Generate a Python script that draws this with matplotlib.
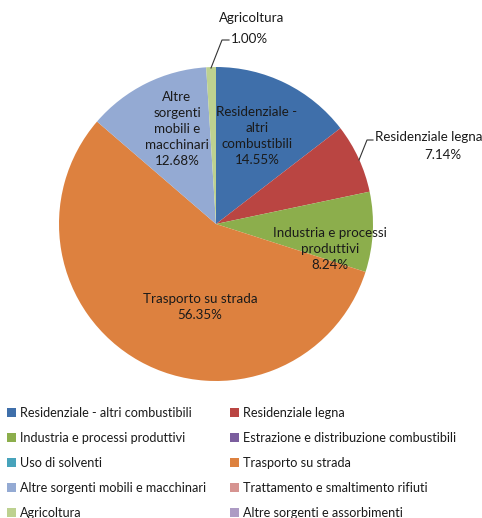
import matplotlib
matplotlib.use("Agg")
import matplotlib.pyplot as plt

categories = [
    "Residenziale - altri combustibili",
    "Residenziale legna",
    "Industria e processi produttivi",
    "Estrazione e distribuzione combustibili",
    "Uso di solventi",
    "Trasporto su strada",
    "Altre sorgenti mobili e macchinari",
    "Trattamento e smaltimento rifiuti",
    "Agricoltura",
    "Altre sorgenti e assorbimenti",
]
values = [14.55, 7.14, 8.24, 0.0, 0.0, 56.35, 12.68, 0.0, 1.00, 0.0]
colors = ["#3F6FAA", "#BA4542", "#8CAE4C", "#7B5E9E", "#47A3BB",
          "#DD813F", "#94AAD3", "#D69491", "#BDD190", "#AD9BC4"]

plt.rcParams['font.family'] = ['Lato', 'DejaVu Sans']

W, H = 482, 518
fig = plt.figure(figsize=(W / 100, H / 100), dpi=100)
ax = fig.add_axes([0, 0, 1, 1])

def Y(y):
    return H - y

cx, cy, r = 216, 224, 157
wedges, _ = ax.pie(values, colors=colors, startangle=90, counterclock=False,
                   center=(cx, Y(cy)), radius=r, frame=True,
                   wedgeprops=dict(linewidth=0))
ax.set_xlim(0, W)
ax.set_ylim(0, H)
ax.set_aspect('equal')
ax.axis('off')

fs = 9.6
tc = "#1a1a1a"
pct = [f"{v:.2f}%" for v in values]

def lbl(x, y, s):
    ax.text(x, Y(y), s, ha='center', va='center', fontsize=fs, color=tc,
            linespacing=1.4)

# inside labels
lbl(257, 136, "Residenziale -\naltri\ncombustibili\n" + pct[0])
lbl(330, 249, "Industria e processi\nproduttivi\n" + pct[2])
lbl(200, 307, "Trasporto su strada\n" + pct[5])
lbl(177, 129, "Altre\nsorgenti\nmobili e\nmacchinari\n" + pct[6])
# outside labels
ax.text(252, Y(18), "Agricoltura", ha='center', va='center', fontsize=fs, color=tc)
ax.text(231, Y(39), pct[8], ha='left', va='center', fontsize=fs, color=tc)
ax.plot([211, 222, 229], [Y(68), Y(40), Y(40)], color="#333333", lw=0.8)
ax.text(375, Y(137), "Residenziale legna", ha='left', va='center', fontsize=fs, color=tc)
ax.text(443, Y(155), pct[1], ha='center', va='center', fontsize=fs, color=tc)
ax.plot([359, 367, 373], [Y(160), Y(140), Y(140)], color="#333333", lw=0.8)

order = [0, 2, 4, 6, 8, 1, 3, 5, 7, 9]
leg = ax.legend([wedges[i] for i in order], [categories[i] for i in order],
                ncol=2, loc='upper left', bbox_to_anchor=(7 / W, 1 - 407 / H),
                frameon=False, fontsize=9.1, handlelength=0.72, handleheight=0.72,
                handletextpad=0.3, labelspacing=1.02, columnspacing=1.9,
                borderpad=0, borderaxespad=0)
for t in leg.get_texts():
    t.set_color(tc)

fig.savefig("out.png", dpi=100, facecolor="white")
